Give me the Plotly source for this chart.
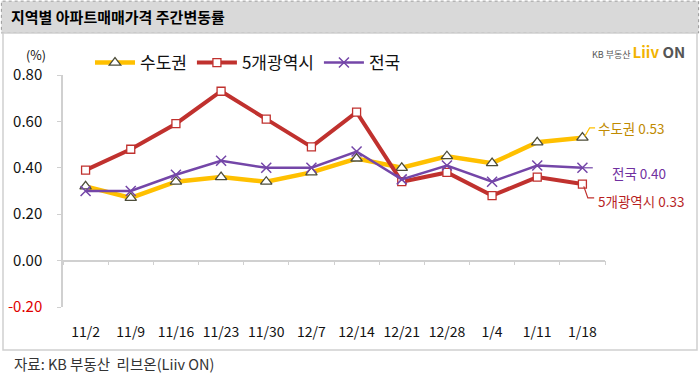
import plotly.graph_objects as go

categories = ["11/2", "11/9", "11/16", "11/23", "11/30", "12/7", "12/14", "12/21", "12/28", "1/4", "1/11", "1/18"]
sudogwon = [0.32, 0.27, 0.34, 0.36, 0.34, 0.38, 0.44, 0.40, 0.45, 0.42, 0.51, 0.53]
metro5 = [0.39, 0.48, 0.59, 0.73, 0.61, 0.49, 0.64, 0.34, 0.38, 0.28, 0.36, 0.33]
national = [0.30, 0.30, 0.37, 0.43, 0.40, 0.40, 0.47, 0.35, 0.41, 0.34, 0.41, 0.40]
ytick_vals = [-0.2, 0.0, 0.2, 0.4, 0.6, 0.8]

W, H = 700, 379
FONT = "Noto Sans CJK KR"
YELLOW = "#FFC000"
RED = "#C0312E"
PURPLE = "#7446A8"

# plot area in pixels
px0, px1 = 63, 605
py_top, py_bot = 75, 307
dom_x = [px0 / W, px1 / W]
dom_y = [1 - py_bot / H, 1 - py_top / H]
ymin, ymax = -0.2, 0.8
n = len(categories)
zero_pos = dom_y[0] + (0 - ymin) / (ymax - ymin) * (dom_y[1] - dom_y[0])


def xp(i):
    return dom_x[0] + (i + 0.5) / n * (dom_x[1] - dom_x[0])


def yp(v):
    return dom_y[0] + (v - ymin) / (ymax - ymin) * (dom_y[1] - dom_y[0])


fig = go.Figure()
fig.add_trace(go.Scatter(
    x=categories, y=sudogwon, name="수도권", mode="lines+markers",
    line=dict(color=YELLOW, width=4.5),
    marker=dict(symbol="triangle-up", size=10, color="white", line=dict(color="#4d4d3a", width=1.3)),
))
fig.add_trace(go.Scatter(
    x=categories, y=metro5, name="5개광역시", mode="lines+markers",
    line=dict(color=RED, width=4),
    marker=dict(symbol="square", size=8, color="white", line=dict(color=RED, width=1.3)),
))
fig.add_trace(go.Scatter(
    x=categories, y=national, name="전국", mode="lines+markers",
    line=dict(color=PURPLE, width=2.5),
    marker=dict(symbol="x-thin", size=10, color=PURPLE, line=dict(color=PURPLE, width=1.5)),
))
# overlay axis just for the zero line with boundary ticks
fig.add_trace(go.Scatter(x=categories, y=[None] * n, xaxis="x2", showlegend=False, hoverinfo="skip"))

last = n - 1
cw = (dom_x[1] - dom_x[0]) / n  # category width in paper units
xl = xp(last)
shapes = [
    # title bar
    dict(type="rect", xref="paper", yref="paper", x0=0.002, x1=0.998, y0=1 - 33 / H, y1=0.997,
         fillcolor="#d9d9d9", line=dict(color="#9a9a9a", width=1, dash="dot"), layer="below"),
    # chart frame
    dict(type="rect", xref="paper", yref="paper", x0=3 / W, x1=697 / W, y0=1 - 350 / H, y1=1 - 33 / H,
         fillcolor="white", line=dict(color="#d0d0d0", width=1.5), layer="below"),
    # leader lines
    dict(type="path", xref="paper", yref="paper",
         path=f"M {xl + 0.05 * cw},{yp(sudogwon[-1] + 0.005)} L {xl + 0.16 * cw},{yp(sudogwon[-1] + 0.042)} L {xl + 0.28 * cw},{yp(sudogwon[-1] + 0.042)}",
         line=dict(color=YELLOW, width=1.2)),
    dict(type="path", xref="paper", yref="paper",
         path=f"M {xl},{yp(national[-1])} L {xl + 0.23 * cw},{yp(national[-1])}",
         line=dict(color=PURPLE, width=1.2)),
    dict(type="path", xref="paper", yref="paper",
         path=f"M {xl + 0.03 * cw},{yp(metro5[-1] - 0.01)} L {xl + 0.12 * cw},{yp(metro5[-1] - 0.06)} L {xl + 0.26 * cw},{yp(metro5[-1] - 0.06)}",
         line=dict(color=RED, width=1.2)),
]

annotations = [
    dict(text="<b>지역별 아파트매매가격 주간변동률</b>", xref="paper", yref="paper", x=9 / W, y=1 - 16 / H,
         xanchor="left", yanchor="middle", showarrow=False, font=dict(family=FONT, size=15, color="#000")),
    dict(text="(%)", xref="paper", yref="paper", x=24 / W, y=1 - 55 / H,
         xanchor="left", yanchor="middle", showarrow=False, font=dict(family=FONT, size=12.5, color="#111")),
    dict(text="<span style='font-size:9px;color:#555'>KB 부동산 </span><b><span style='color:#F2B300'>Liiv</span> <span style='color:#555'>ON</span></b>",
         xref="paper", yref="paper", x=687 / W, y=1 - 52 / H, xanchor="right", yanchor="middle",
         showarrow=False, font=dict(family=FONT, size=15)),
    dict(text=f"수도권 {sudogwon[-1]:.2f}", xref="paper", yref="paper", x=xl + 0.31 * cw, y=yp(sudogwon[-1] + 0.042),
         xanchor="left", yanchor="middle", showarrow=False, font=dict(family=FONT, size=13.5, color="#C08A00")),
    dict(text=f"전국 {national[-1]:.2f}", xref="paper", yref="paper", x=xl + 0.62 * cw, y=yp(national[-1] - 0.022),
         xanchor="left", yanchor="middle", showarrow=False, font=dict(family=FONT, size=13.5, color="#7030A0")),
    dict(text=f"5개광역시 {metro5[-1]:.2f}", xref="paper", yref="paper", x=xl + 0.29 * cw, y=yp(metro5[-1] - 0.072),
         xanchor="left", yanchor="middle", showarrow=False, font=dict(family=FONT, size=13.5, color="#B81F1F")),
    dict(text="자료: KB 부동산  리브온(Liiv ON)", xref="paper", yref="paper", x=12 / W, y=1 - 363 / H,
         xanchor="left", yanchor="middle", showarrow=False, font=dict(family=FONT, size=14.5, color="#333")),
]

ytext = [("<span style='color:#E00000'>%.2f</span>" % v) if v < 0 else "%.2f" % v for v in ytick_vals]

fig.update_layout(
    width=W, height=H, margin=dict(l=0, r=0, t=0, b=0, autoexpand=False),
    paper_bgcolor="white", plot_bgcolor="rgba(0,0,0,0)",
    font=dict(family=FONT, color="#111"),
    showlegend=True,
    legend=dict(orientation="h", x=90 / W, y=1 - 63 / H, xanchor="left", yanchor="middle",
                font=dict(family=FONT, size=17, color="#111"), bgcolor="rgba(0,0,0,0)",
                itemwidth=40, tracegroupgap=0),
    xaxis=dict(domain=dom_x, type="category", range=[-0.5, n - 0.5],
               showline=False, showgrid=False, zeroline=False,
               ticks="outside", ticklen=12, tickcolor="rgba(0,0,0,0)",
               tickfont=dict(family=FONT, size=14, color="#111")),
    xaxis2=dict(overlaying="x", anchor="free", position=zero_pos, side="bottom", type="category",
                range=[-0.5, n - 0.5], domain=dom_x, matches="x",
                showline=True, linecolor="#d0d0d0", linewidth=1.5, showgrid=False, zeroline=False,
                ticks="outside", tickson="boundaries", ticklen=4, tickcolor="#d0d0d0", tickwidth=1.2,
                showticklabels=False),
    yaxis=dict(domain=dom_y, range=[ymin, ymax], tickvals=ytick_vals, ticktext=ytext,
               showline=True, linecolor="#d0d0d0", linewidth=1.5, showgrid=False, zeroline=False,
               ticks="outside", ticklen=4, tickcolor="#d0d0d0", ticklabelstandoff=12,
               tickfont=dict(family=FONT, size=15, color="#111")),
    shapes=shapes, annotations=annotations,
)

fig.write_html("out.html", config={"displayModeBar": False},
               post_script="document.body.style.margin='0px';document.body.style.overflow='hidden';")
